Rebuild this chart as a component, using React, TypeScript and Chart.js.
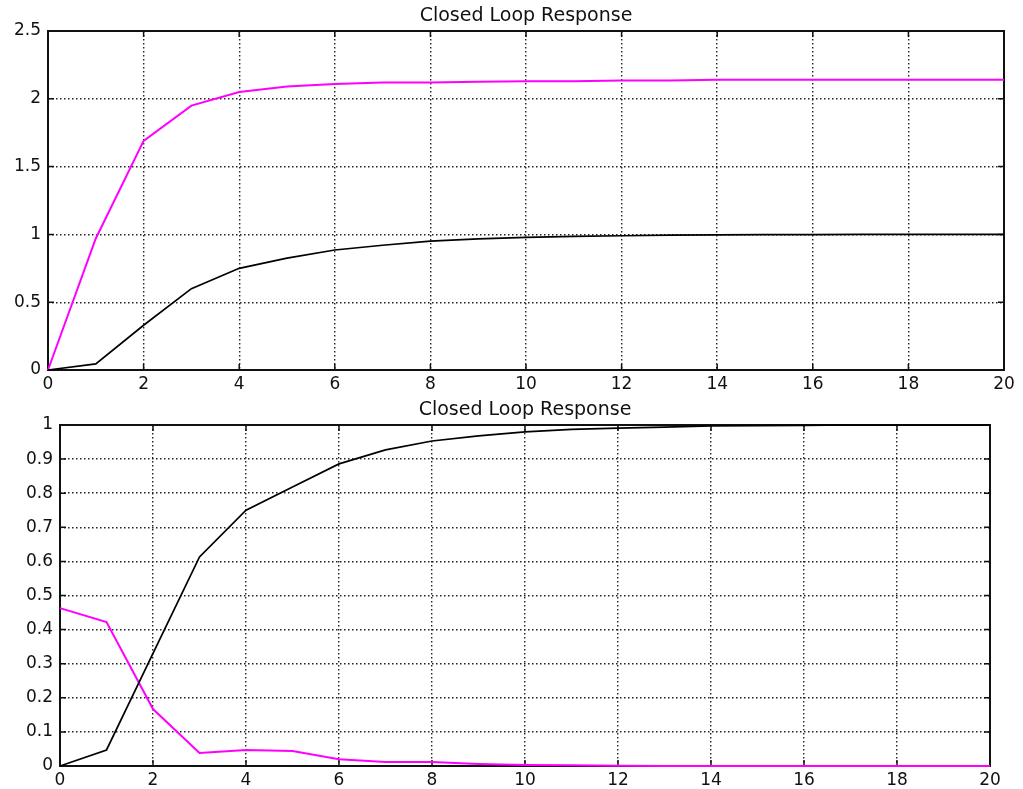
import React, { useEffect, useRef } from "react";
import { Chart, registerables } from "chart.js";

Chart.register(...registerables);

const TITLE = "Closed Loop Response";
const TIME = [0, 1, 2, 3, 4, 5, 6, 7, 8, 9, 10, 11, 12, 13, 14, 15, 16, 17, 18, 19, 20];

const TOP_MAGENTA = [0, 0.97, 1.69, 1.95, 2.05, 2.09, 2.11, 2.12, 2.12, 2.125, 2.13, 2.13, 2.135, 2.135, 2.14, 2.14, 2.14, 2.14, 2.14, 2.14, 2.14];
const TOP_BLACK = [0, 0.045, 0.33, 0.6, 0.75, 0.825, 0.885, 0.92, 0.95, 0.967, 0.978, 0.986, 0.99, 0.994, 0.997, 0.998, 0.999, 1, 1, 1, 1];

const BOTTOM_BLACK = [0, 0.047, 0.33, 0.613, 0.75, 0.818, 0.886, 0.927, 0.953, 0.968, 0.98, 0.987, 0.991, 0.994, 0.997, 0.998, 0.999, 1, 1, 1, 1];
const BOTTOM_MAGENTA = [0.463, 0.422, 0.167, 0.038, 0.047, 0.044, 0.02, 0.012, 0.012, 0.006, 0.003, 0.002, 0.001, 0, 0, 0, 0, 0, 0, 0, 0];

const X_TICKS = [0, 2, 4, 6, 8, 10, 12, 14, 16, 18, 20];
const X_LABELS = ["0", "2", "4", "6", "8", "10", "12", "14", "16", "18", "20"];
const TOP_Y_TICKS = [0, 0.5, 1, 1.5, 2, 2.5];
const TOP_Y_LABELS = ["0", "0.5", "1", "1.5", "2", "2.5"];
const BOTTOM_Y_TICKS = [0, 0.1, 0.2, 0.3, 0.4, 0.5, 0.6, 0.7, 0.8, 0.9, 1];
const BOTTOM_Y_LABELS = ["0", "0.1", "0.2", "0.3", "0.4", "0.5", "0.6", "0.7", "0.8", "0.9", "1"];

const FONT = "'DejaVu Sans', 'Liberation Sans', Arial, sans-serif";

const boxPlugin = {
  id: "matlabBox",
  beforeDatasetsDraw(chart: any) {
    const { ctx, chartArea } = chart;
    const { left, right, top, bottom } = chartArea;
    const xs = chart.scales.x;
    const ys = chart.scales.y;
    const tl = 6;
    ctx.save();
    ctx.strokeStyle = "#111";
    ctx.lineWidth = 1.5;
    ctx.setLineDash([]);
    ctx.beginPath();
    xs.ticks.forEach((t: any) => {
      const px = xs.getPixelForValue(t.value);
      ctx.moveTo(px, bottom);
      ctx.lineTo(px, bottom - tl);
      ctx.moveTo(px, top);
      ctx.lineTo(px, top + tl);
    });
    ys.ticks.forEach((t: any) => {
      const py = ys.getPixelForValue(t.value);
      ctx.moveTo(left, py);
      ctx.lineTo(left + tl, py);
      ctx.moveTo(right, py);
      ctx.lineTo(right - tl, py);
    });
    ctx.stroke();
    ctx.lineWidth = 2;
    ctx.strokeRect(left, top, right - left, bottom - top);
    ctx.restore();
  },
};

type Cfg = {
  magenta: number[];
  black: number[];
  yMax: number;
  yTicks: number[];
  yLabels: string[];
  yWidth: number;
  xHeight: number;
  padRight: number;
  titlePadTop: number;
  titlePadBottom: number;
};

function makeConfig(c: Cfg): any {
  const toPts = (arr: number[]) => TIME.map((t, i) => ({ x: t, y: arr[i] }));
  return {
    type: "line",
    data: {
      datasets: [
        {
          data: toPts(c.black),
          borderColor: "#000000",
          borderWidth: 1.7,
          pointRadius: 0,
          tension: 0,
          clip: 4,
        },
        {
          data: toPts(c.magenta),
          borderColor: "#ff00ff",
          borderWidth: 2,
          pointRadius: 0,
          tension: 0,
          clip: 4,
        },
      ],
    },
    options: {
      animation: false,
      responsive: false,
      layout: { padding: { left: 0, right: c.padRight, top: 0, bottom: 0 } },
      plugins: {
        legend: { display: false },
        tooltip: { enabled: false },
        title: {
          display: true,
          text: TITLE,
          fullSize: false,
          color: "#111",
          font: { family: FONT, size: 19, weight: "normal", lineHeight: 1.2 },
          padding: { top: c.titlePadTop, bottom: c.titlePadBottom },
        },
      },
      scales: {
        x: {
          type: "linear",
          min: 0,
          max: 20,
          afterBuildTicks: (s: any) => {
            s.ticks = X_TICKS.map((v) => ({ value: v }));
          },
          afterFit: (s: any) => {
            s.height = c.xHeight;
          },
          ticks: {
            color: "#111",
            font: { family: FONT, size: 17 },
            padding: 4,
            maxRotation: 0,
            autoSkip: false,
            callback: (v: any, i: number) => X_LABELS[i],
          },
          grid: {
            color: "#222",
            lineWidth: 1.4,
            drawTicks: false,
          },
          border: { display: false, dash: [1.5, 2.5] },
        },
        y: {
          type: "linear",
          min: 0,
          max: c.yMax,
          afterBuildTicks: (s: any) => {
            s.ticks = c.yTicks.map((v) => ({ value: v }));
          },
          afterFit: (s: any) => {
            s.width = c.yWidth;
          },
          ticks: {
            color: "#111",
            font: { family: FONT, size: 17 },
            padding: 7,
            autoSkip: false,
            callback: (v: any, i: number) => c.yLabels[i],
          },
          grid: {
            color: "#222",
            lineWidth: 1.4,
            drawTicks: false,
          },
          border: { display: false, dash: [1.5, 2.5] },
        },
      },
    },
    plugins: [boxPlugin],
  };
}

function ChartCanvas(props: { cfg: Cfg; top: number; height: number }) {
  const ref = useRef<HTMLCanvasElement | null>(null);
  useEffect(() => {
    if (!ref.current) return;
    const chart = new Chart(ref.current, makeConfig(props.cfg));
    return () => chart.destroy();
  }, []);
  return (
    <canvas
      ref={ref}
      width={1023}
      height={props.height}
      style={{ position: "absolute", left: 0, top: props.top, width: 1023, height: props.height }}
    />
  );
}

export default function App() {
  return (
    <div
      style={{
        position: "absolute",
        left: 0,
        top: 0,
        width: 1023,
        height: 789,
        background: "#ffffff",
        overflow: "hidden",
      }}
    >
      <ChartCanvas
        top={0}
        height={395}
        cfg={{
          magenta: TOP_MAGENTA,
          black: TOP_BLACK,
          yMax: 2.5,
          yTicks: TOP_Y_TICKS,
          yLabels: TOP_Y_LABELS,
          yWidth: 48,
          xHeight: 25,
          padRight: 19,
          titlePadTop: 5,
          titlePadBottom: 3.2,
        }}
      />
      <ChartCanvas
        top={395}
        height={394}
        cfg={{
          magenta: BOTTOM_MAGENTA,
          black: BOTTOM_BLACK,
          yMax: 1,
          yTicks: BOTTOM_Y_TICKS,
          yLabels: BOTTOM_Y_LABELS,
          yWidth: 60,
          xHeight: 23,
          padRight: 33,
          titlePadTop: 4,
          titlePadBottom: 3.2,
        }}
      />
    </div>
  );
}
